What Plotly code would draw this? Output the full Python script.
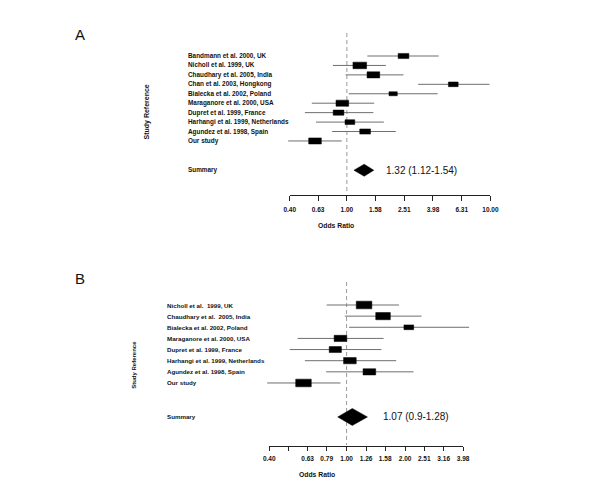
import math
import plotly.graph_objects as go

# ---------------- data ----------------
studies_A = ["Bandmann et al. 2000, UK", "Nicholl et al. 1999, UK",
             "Chaudhary et al. 2005, India", "Chan et al. 2003, Hongkong",
             "Bialecka et al. 2002, Poland", "Maraganore et al. 2000, USA",
             "Dupret et al. 1999, France", "Harhangi et al. 1999, Netherlands",
             "Agundez et al. 1998, Spain", "Our study"]
or_A = [2.48, 1.23, 1.53, 5.51, 2.10, 0.93, 0.875, 1.05, 1.34, 0.60]
lo_A = [1.39, 0.80, 0.98, 3.14, 1.03, 0.57, 0.51, 0.61, 0.79, 0.39]
hi_A = [4.36, 1.87, 2.48, 9.85, 4.29, 1.55, 1.53, 1.81, 2.19, 0.92]
weight_A = [11, 14, 13, 10, 8.5, 13, 11, 10, 11, 13]   # relative study weight
summary_A = [1.32, 1.12, 1.54]
summary_text_A = "1.32 (1.12-1.54)"
ticks_A = [0.40, 0.63, 1.00, 1.58, 2.51, 3.98, 6.31, 10.00]
ticklabels_A = ["0.40", "0.63", "1.00", "1.58", "2.51", "3.98", "6.31", "10.00"]

studies_B = ["Nicholl et al. \u00a01999, UK", "Chaudhary et al. \u00a02005, India",
             "Bialecka et al. 2002, Poland", "Maraganore et al. 2000, USA",
             "Dupret et al. 1999, France", "Harhangi et al. 1999, Netherlands",
             "Agundez et al. 1998, Spain", "Our study"]
or_B = [1.23, 1.54, 2.09, 0.93, 0.875, 1.04, 1.31, 0.60]
lo_B = [0.79, 0.98, 1.03, 0.56, 0.51, 0.61, 0.785, 0.39]
hi_B = [1.86, 2.43, 4.27, 1.55, 1.51, 1.80, 2.21, 0.93]
weight_B = [16, 15, 10, 13, 12.5, 13, 13, 16]
summary_B = [1.07, 0.90, 1.28]
summary_text_B = "1.07 (0.9-1.28)"
ticks_B = [0.40, 0.50, 0.63, 0.79, 1.00, 1.26, 1.58, 2.00, 2.51, 3.16, 3.98]
ticklabels_B = ["0.40", "", "0.63", "0.79", "1.00", "1.26", "1.58", "2.00", "2.51", "3.16", "3.98"]

# ---------------- layout geometry ----------------
# the page body has an 8px margin; the figure is sized to fit inside the window
OFF = 8
W, H = 584, 487
FONT = "Liberation Sans, Arial, Helvetica, sans-serif"
CI_COLOR = "#6e6e6e"


def px_x(px):
    return (px - OFF) / W


def px_y(py):
    return 1 - (py - OFF) / H


panels = [
    dict(tag="A", studies=studies_A, orv=or_A, lo=lo_A, hi=hi_A, w=weight_A,
         summ=summary_A, summ_text=summary_text_A, ticks=ticks_A, ticklabels=ticklabels_A,
         x_lo_px=291, x_hi_px=497, row0_px=56, row_step=9.44, summ_row=12.1,
         axis_px=195, dash_top_px=33, dash_bot_px=193, label_px=185,
         diamond_h=12, box_ratio=0.47, ticklen=5, standoff=3,
         letter_xy=(76, 34), ylab_xy=(145, 112), ylab_size=7, lab_size=6.4,
         xlab_xy=(339, 225), summ_text_px=388, xa="x", ya="y", xd="x2"),
    dict(tag="B", studies=studies_B, orv=or_B, lo=lo_B, hi=hi_B, w=weight_B,
         summ=summary_B, summ_text=summary_text_B, ticks=ticks_B, ticklabels=ticklabels_B,
         x_lo_px=270, x_hi_px=469, row0_px=305, row_step=11.14, summ_row=10.05,
         axis_px=446, dash_top_px=282, dash_bot_px=445, label_px=163,
         diamond_h=17, box_ratio=0.48, ticklen=4, standoff=2,
         letter_xy=(76, 278), ylab_xy=(131, 365), ylab_size=6, lab_size=6.2,
         xlab_xy=(319, 474), summ_text_px=385, xa="x3", ya="y3", xd="x4"),
]

fig = go.Figure()
annotations = []
layout_axes = {}


def axname(ref):
    kind = "xaxis" if ref[0] == "x" else "yaxis"
    return kind + ref[1:]


for p in panels:
    lt_lo, lt_hi = math.log10(p["ticks"][0]), math.log10(p["ticks"][-1])
    pxdec = (p["x_hi_px"] - p["x_lo_px"]) / (lt_hi - lt_lo)
    d_lo, d_hi = math.log10(0.3), math.log10(14)
    dom_l = p["x_lo_px"] - (lt_lo - d_lo) * pxdec
    dom_r = p["x_hi_px"] + (d_hi - lt_hi) * pxdec
    step = p["row_step"]
    r0 = p["row0_px"]
    axis_row = (p["axis_px"] - r0) / step
    y_top, y_bot = -3.5, axis_row + 1.0
    py_top, py_bot = r0 + y_top * step, r0 + y_bot * step

    xa, ya, xd = p["xa"], p["ya"], p["xd"]
    layout_axes[axname(xa)] = dict(type="log", range=[d_lo, d_hi], domain=[px_x(dom_l), px_x(dom_r)],
                                   anchor=ya, visible=False, fixedrange=True)
    layout_axes[axname(ya)] = dict(range=[y_bot, y_top], domain=[px_y(py_bot), px_y(py_top)],
                                   anchor=xa, visible=False, fixedrange=True)
    layout_axes[axname(xd)] = dict(type="log", range=[lt_lo, lt_hi],
                                   domain=[px_x(p["x_lo_px"]), px_x(p["x_hi_px"])],
                                   anchor="free", position=px_y(p["axis_px"]),
                                   showline=True, linecolor="#222", linewidth=1,
                                   ticks="outside", ticklen=p["ticklen"], tickcolor="#222",
                                   tickwidth=1, tickmode="array", tickvals=p["ticks"],
                                   ticktext=p["ticklabels"], showgrid=False, zeroline=False,
                                   ticklabelstandoff=p["standoff"],
                                   tickfont=dict(family=FONT, size=6.5, color="#111", weight="bold"),
                                   fixedrange=True)

    n = len(p["studies"])
    rows = list(range(n))

    # dashed null line at OR = 1
    fig.add_trace(go.Scatter(x=[1, 1], y=[(p["dash_top_px"] - r0) / step, (p["dash_bot_px"] - r0) / step],
                             mode="lines", line=dict(color="#9a9a9a", width=1, dash="4px,3px"),
                             xaxis=xa, yaxis=ya, hoverinfo="skip", showlegend=False))

    # confidence interval lines
    cx, cy = [], []
    for i in rows:
        cx += [p["lo"][i], p["hi"][i], None]
        cy += [i, i, None]
    fig.add_trace(go.Scatter(x=cx, y=cy, mode="lines", line=dict(color=CI_COLOR, width=1),
                             xaxis=xa, yaxis=ya, hoverinfo="skip", showlegend=False))

    # weighted boxes
    bx, by = [], []
    for i in rows:
        hw = p["w"][i] / 2 / pxdec
        hh = p["w"][i] * p["box_ratio"] / 2 / step
        x0, x1 = p["orv"][i] * 10 ** (-hw), p["orv"][i] * 10 ** hw
        bx += [x0, x1, x1, x0, x0, None]
        by += [i - hh, i - hh, i + hh, i + hh, i - hh, None]
    fig.add_trace(go.Scatter(x=bx, y=by, mode="lines", fill="toself", fillcolor="black",
                             line=dict(color="black", width=0.5), xaxis=xa, yaxis=ya,
                             hoverinfo="skip", showlegend=False))

    # summary diamond
    s_or, s_lo, s_hi = p["summ"]
    sr = p["summ_row"]
    dh = p["diamond_h"] / 2 / step
    fig.add_trace(go.Scatter(x=[s_lo, s_or, s_hi, s_or, s_lo], y=[sr, sr - dh, sr, sr + dh, sr],
                             mode="lines", fill="toself", fillcolor="black",
                             line=dict(color="black", width=0.5), xaxis=xa, yaxis=ya,
                             hoverinfo="skip", showlegend=False))

    # invisible anchor trace for the display axis
    fig.add_trace(go.Scatter(x=[1], y=[None], mode="markers", xaxis=xd, yaxis=ya,
                             hoverinfo="skip", showlegend=False))

    # study labels
    for i in rows:
        annotations.append(dict(x=px_x(p["label_px"]), xref="paper", y=i, yref=ya,
                                text=p["studies"][i], showarrow=False, xanchor="left",
                                yanchor="middle",
                                font=dict(family=FONT, size=p["lab_size"], color="#111", weight="bold")))
    annotations.append(dict(x=px_x(p["label_px"]), xref="paper", y=sr, yref=ya, text="Summary",
                            showarrow=False, xanchor="left", yanchor="middle",
                            font=dict(family=FONT, size=p["lab_size"], color="#111", weight="bold")))
    annotations.append(dict(x=px_x(p["summ_text_px"]), xref="paper", y=sr, yref=ya,
                            text=p["summ_text"], showarrow=False, xanchor="left", yanchor="middle",
                            font=dict(family=FONT, size=10, color="#111")))
    # panel letter
    annotations.append(dict(x=px_x(p["letter_xy"][0]), y=px_y(p["letter_xy"][1]), xref="paper",
                            yref="paper", text=p["tag"], showarrow=False, xanchor="center",
                            yanchor="middle", font=dict(family=FONT, size=15, color="#111")))
    # y label
    annotations.append(dict(x=px_x(p["ylab_xy"][0]), y=px_y(p["ylab_xy"][1]), xref="paper",
                            yref="paper", text="Study Reference", textangle=-90, showarrow=False,
                            xanchor="center", yanchor="middle",
                            font=dict(family=FONT, size=p["ylab_size"], color="#111", weight="bold")))
    # x label
    annotations.append(dict(x=px_x(p["xlab_xy"][0]), y=px_y(p["xlab_xy"][1]), xref="paper",
                            yref="paper", text="Odds Ratio", showarrow=False,
                            xanchor="center", yanchor="middle",
                            font=dict(family=FONT, size=6.8, color="#111", weight="bold")))

fig.update_layout(width=W, height=H, margin=dict(l=0, r=0, t=0, b=0),
                  paper_bgcolor="white", plot_bgcolor="rgba(0,0,0,0)",
                  showlegend=False, annotations=annotations, **layout_axes)

fig.write_html("out.html")
